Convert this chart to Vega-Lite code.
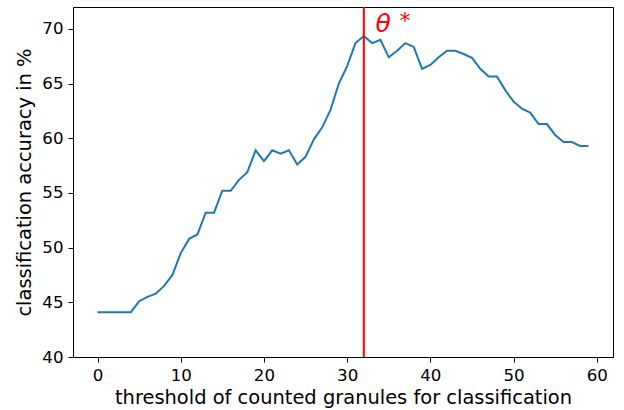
{
  "$schema": "https://vega.github.io/schema/vega-lite/v6.json",
  "width": 540,
  "height": 350,
  "autosize": {"type": "none"},
  "padding": {"left": 73, "top": 7, "right": 11, "bottom": 53},
  "background": "white",
  "config": {
    "font": "DejaVu Sans",
    "view": {"stroke": "black", "strokeWidth": 1},
    "axis": {
      "domainColor": "black",
      "tickColor": "black",
      "tickSize": 5,
      "tickWidth": 1,
      "grid": false,
      "labelFont": "DejaVu Sans",
      "labelFontSize": 16.67,
      "labelColor": "black",
      "labelPadding": 5,
      "titleFont": "DejaVu Sans",
      "titleFontSize": 19.44,
      "titleFontWeight": "normal",
      "titleColor": "black"
    }
  },
  "datasets": {
    "acc": [
      {"threshold": 0, "accuracy": 44.1},
      {"threshold": 1, "accuracy": 44.1},
      {"threshold": 2, "accuracy": 44.1},
      {"threshold": 3, "accuracy": 44.1},
      {"threshold": 4, "accuracy": 44.1},
      {"threshold": 5, "accuracy": 45.1},
      {"threshold": 6, "accuracy": 45.5},
      {"threshold": 7, "accuracy": 45.8},
      {"threshold": 8, "accuracy": 46.5},
      {"threshold": 9, "accuracy": 47.5},
      {"threshold": 10, "accuracy": 49.5},
      {"threshold": 11, "accuracy": 50.8},
      {"threshold": 12, "accuracy": 51.2},
      {"threshold": 13, "accuracy": 53.2},
      {"threshold": 14, "accuracy": 53.2},
      {"threshold": 15, "accuracy": 55.2},
      {"threshold": 16, "accuracy": 55.2},
      {"threshold": 17, "accuracy": 56.2},
      {"threshold": 18, "accuracy": 56.9},
      {"threshold": 19, "accuracy": 58.9},
      {"threshold": 20, "accuracy": 57.9},
      {"threshold": 21, "accuracy": 58.9},
      {"threshold": 22, "accuracy": 58.6},
      {"threshold": 23, "accuracy": 58.9},
      {"threshold": 24, "accuracy": 57.6},
      {"threshold": 25, "accuracy": 58.3},
      {"threshold": 26, "accuracy": 59.9},
      {"threshold": 27, "accuracy": 61.0},
      {"threshold": 28, "accuracy": 62.6},
      {"threshold": 29, "accuracy": 65.0},
      {"threshold": 30, "accuracy": 66.6},
      {"threshold": 31, "accuracy": 68.7},
      {"threshold": 32, "accuracy": 69.35},
      {"threshold": 33, "accuracy": 68.7},
      {"threshold": 34, "accuracy": 69.0},
      {"threshold": 35, "accuracy": 67.4},
      {"threshold": 36, "accuracy": 68.0},
      {"threshold": 37, "accuracy": 68.7},
      {"threshold": 38, "accuracy": 68.35},
      {"threshold": 39, "accuracy": 66.35},
      {"threshold": 40, "accuracy": 66.7},
      {"threshold": 41, "accuracy": 67.4},
      {"threshold": 42, "accuracy": 68.0},
      {"threshold": 43, "accuracy": 68.0},
      {"threshold": 44, "accuracy": 67.7},
      {"threshold": 45, "accuracy": 67.35},
      {"threshold": 46, "accuracy": 66.35},
      {"threshold": 47, "accuracy": 65.65},
      {"threshold": 48, "accuracy": 65.65},
      {"threshold": 49, "accuracy": 64.4},
      {"threshold": 50, "accuracy": 63.35},
      {"threshold": 51, "accuracy": 62.7},
      {"threshold": 52, "accuracy": 62.35},
      {"threshold": 53, "accuracy": 61.3},
      {"threshold": 54, "accuracy": 61.3},
      {"threshold": 55, "accuracy": 60.3},
      {"threshold": 56, "accuracy": 59.65},
      {"threshold": 57, "accuracy": 59.65},
      {"threshold": 58, "accuracy": 59.3},
      {"threshold": 59, "accuracy": 59.3}
    ],
    "opt": [{"threshold": 32}],
    "note": [{"threshold": 33.4, "accuracy": 69.75, "theta": "θ", "star": "*"}]
  },
  "layer": [
    {
      "data": {"name": "acc"},
      "mark": {"type": "line", "color": "#1f77b4", "strokeWidth": 2},
      "encoding": {
        "x": {
          "field": "threshold", "type": "quantitative",
          "scale": {"domain": [-2.95, 61.95], "nice": false, "zero": false},
          "axis": {"values": [0, 10, 20, 30, 40, 50, 60], "title": "threshold of counted granules for classification", "titlePadding": 5}
        },
        "y": {
          "field": "accuracy", "type": "quantitative",
          "scale": {"domain": [40, 72], "nice": false, "zero": false},
          "axis": {"values": [40, 45, 50, 55, 60, 65, 70], "title": "classification accuracy in %", "titlePadding": 7}
        }
      }
    },
    {
      "data": {"name": "opt"},
      "mark": {"type": "rule", "color": "red", "strokeWidth": 2},
      "encoding": {"x": {"field": "threshold", "type": "quantitative"}}
    },
    {
      "data": {"name": "note"},
      "mark": {"type": "text", "color": "red", "fontSize": 25, "fontStyle": "italic", "align": "left", "baseline": "alphabetic", "font": "DejaVu Sans"},
      "encoding": {
        "x": {"field": "threshold", "type": "quantitative"},
        "y": {"field": "accuracy", "type": "quantitative"},
        "text": {"field": "theta"}
      }
    },
    {
      "data": {"name": "note"},
      "mark": {"type": "text", "color": "red", "fontSize": 22, "align": "left", "baseline": "alphabetic", "dx": 24, "dy": -4, "font": "DejaVu Sans"},
      "encoding": {
        "x": {"field": "threshold", "type": "quantitative"},
        "y": {"field": "accuracy", "type": "quantitative"},
        "text": {"field": "star"}
      }
    }
  ]
}
